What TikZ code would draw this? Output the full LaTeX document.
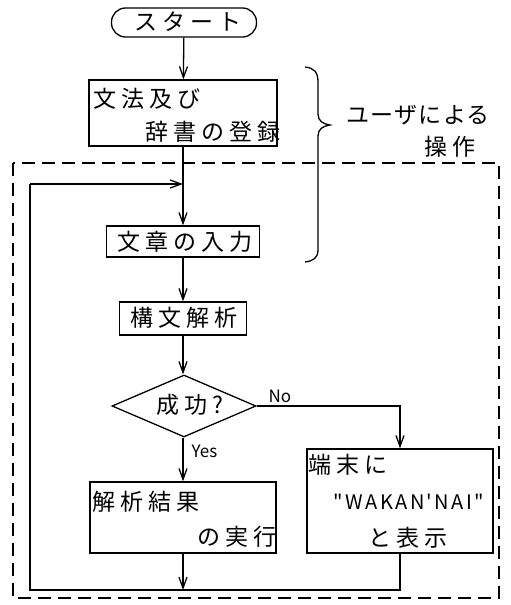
\documentclass[tikz,border=0pt]{standalone}
\usepackage{fontspec}
\newfontfamily\jp[LetterSpace=22]{Noto Sans CJK JP}
\newfontfamily\jpn[LetterSpace=12]{Noto Sans CJK JP}
\newfontfamily\jpu[LetterSpace=6]{Noto Sans CJK JP}
\newfontfamily\jpl{Noto Sans CJK JP}
\usetikzlibrary{arrows.meta,shapes.geometric}
\begin{document}
\begin{tikzpicture}[x=1pt,y=-1pt, line width=1.3pt,
  box/.style={draw, rectangle, inner sep=0pt},
  txt/.style={font=\jp\fontsize{23}{25}\selectfont, inner sep=0pt},
  ltxt/.style={font=\jpn\fontsize{20}{22}\selectfont, inner sep=0pt},
  lbl/.style={font=\jpl\fontsize{17}{19}\selectfont, inner sep=0pt},
  arr/.style={-{Straight Barb[length=11pt,width=8pt]}},
  dashbox/.style={line width=1.1pt, dash pattern=on 13pt off 7pt}
]
\useasboundingbox (0,0) rectangle (511,605);
\fill[white] (0,0) rectangle (511,605);

% nodes
\node[box, rounded corners=14pt, minimum width=145pt, minimum height=29pt] (start) at (184,22.5) {};
\node[box, minimum width=188pt, minimum height=66pt] (box1) at (183,113) {};
\node[box, minimum width=153pt, minimum height=31pt] (box2) at (183,241.5) {};
\node[box, minimum width=127pt, minimum height=33pt] (box3) at (183,318.5) {};
\node[draw, diamond, inner sep=0pt, minimum width=144pt, minimum height=62pt] (dia) at (184,406) {};
\node[box, minimum width=186pt, minimum height=71pt] (box4) at (183,517.5) {};
\node[box, minimum width=186pt, minimum height=104pt] (box5) at (400,501) {};

% texts
\node[txt] (tstart) at (188,22) {スタート};
\node[txt, anchor=west] (t1a) at (93,99) {文法及び};
\node[txt, anchor=east] (t1b) at (281,132) {辞書の登録};
\node[txt] (t2) at (185,242) {文章の入力};
\node[txt] (t3) at (184,318) {構文解析};
\node[txt] (tdia) at (190,405) {成功?};
\node[txt, anchor=west] (t4a) at (92,502) {解析結果};
\node[txt, anchor=east] (t4b) at (277,537) {の実行};
\node[txt, anchor=west] (t5a) at (308,465) {端末に};
\node[ltxt] (t5b) at (409,502) {"WAKAN'NAI"};
\node[txt] (t5c) at (408,538) {と表示};
\node[font=\jpu\fontsize{23}{25}\selectfont, inner sep=0pt] (tu1) at (418,115) {ユーザによる};
\node[txt] (tu2) at (450,147) {操作};
\node[lbl] (tno) at (280,396) {No};
\node[lbl, anchor=west] (tyes) at (191,451) {Yes};

% brace
\draw (305,67) .. controls (314,68) and (318,72) .. (318,82) -- (318,114)
      .. controls (318,121) and (323,124) .. (330,125)
      .. controls (323,126) and (318,129) .. (318,136) -- (318,250)
      .. controls (318,258) and (313,261) .. (305,262);

% dashed frame
\draw[dashbox] (13,163) rectangle (499,598);

% connectors
\coordinate (j) at (183,184);
\coordinate (lt) at (30,184);
\coordinate (bl) at (30,590);
\coordinate (bm) at (183,590);
\coordinate (br) at (400,590);

\draw[arr] (start) -- (box1);
\draw[arr] (box1) -- (box2);
\draw[arr] (box2) -- (box3);
\draw[arr] (box3) -- (box3 |- dia.north);
\draw[arr] (dia.east) -| (box5.north);
\draw[arr] (box4.north |- dia.south) -- (box4.north);
\draw[arr] (box4) -- (bm);
\draw (box5.south) -- (br) -- (bl) -- (lt);
\draw[arr] (lt) -- (j);
\end{tikzpicture}
\end{document}
